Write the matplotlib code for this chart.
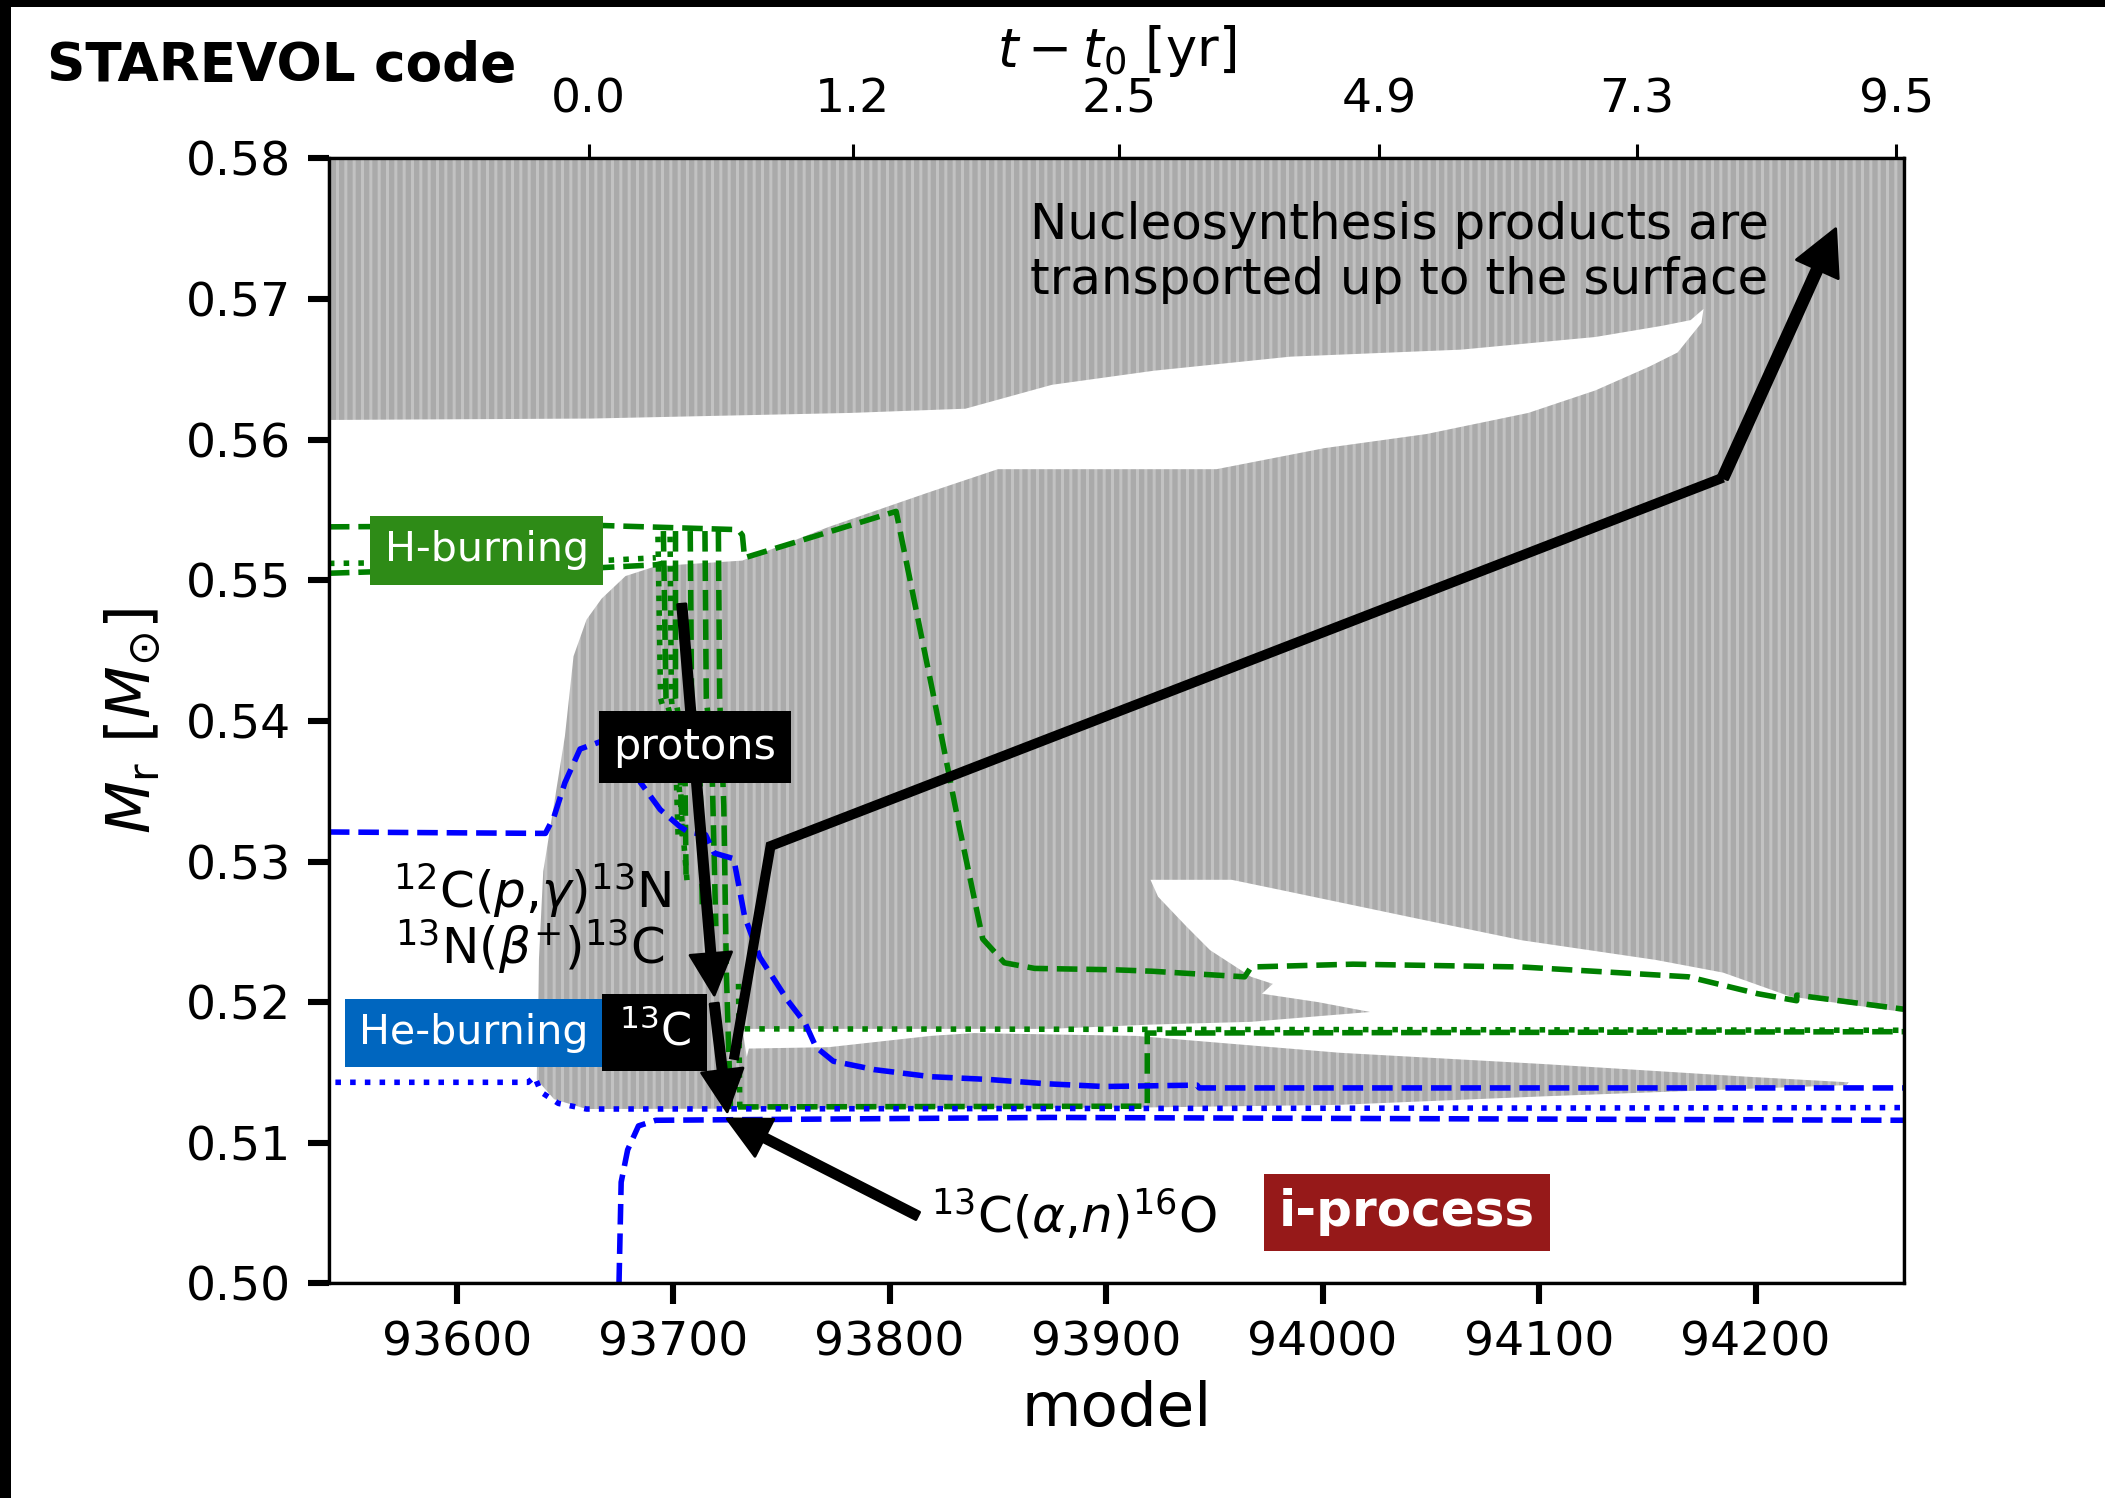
import numpy as np
import matplotlib
matplotlib.use('Agg')
import matplotlib.pyplot as plt
from matplotlib.patches import Rectangle

plt.rcParams['font.family'] = 'DejaVu Sans'
plt.rcParams['mathtext.fontset'] = 'dejavusans'
plt.rcParams['hatch.linewidth'] = 1.1

# --- axis ranges and ticks ---
model_lim = (93541.0, 94268.4)
mass_lim = (0.50, 0.58)
model_ticks = [93600, 93700, 93800, 93900, 94000, 94100, 94200]
mass_ticks = [0.50, 0.51, 0.52, 0.53, 0.54, 0.55, 0.56, 0.57, 0.58]
time_tick_models = [93661, 93783, 93906, 94026, 94145, 94265]
time_tick_labels = ['0.0', '1.2', '2.5', '4.9', '7.3', '9.5']

# --- convective zone boundaries ---
# lower edge of the upper convective zone
top_edge_x = [93541.0, 93662, 93782, 93835, 93875, 93922, 93985, 94064, 94126, 94157, 94170, 94176]
top_edge_y = [0.5614, 0.5615, 0.5619, 0.5622, 0.5639, 0.5649, 0.5659, 0.5664, 0.5673, 0.5681, 0.5685, 0.5693]
# upper/left edge of the flash-driven convective zone
core_edge_x = [94175, 94164, 94151, 94126, 94095, 94048, 94001, 93951, 93850, 93819, 93772, 93732,
               93692, 93678, 93667, 93660, 93654, 93650, 93645, 93640, 93638, 93637, 93645, 93660]
core_edge_y = [0.5683, 0.5662, 0.5652, 0.5635, 0.5619, 0.5604, 0.5594, 0.5579, 0.5579, 0.5563, 0.5538, 0.5514,
               0.5510, 0.5503, 0.5487, 0.5472, 0.5446, 0.5389, 0.5341, 0.5293, 0.5230, 0.5145, 0.5131, 0.5124]
# bottom of the convective zone
floor_edge_x = [93914, 94008, 94102, 94242, 94243]
floor_edge_y = [0.5125, 0.5127, 0.5133, 0.5141, 0.5143]
# top of the lower (split) convective zone
split_top_x = [94196, 94102, 94008, 93914, 93839, 93819, 93772, 93735, 93734, 93732]
split_top_y = [0.5147, 0.5156, 0.5164, 0.5176, 0.5178, 0.5176, 0.5168, 0.5167, 0.5161, 0.5181]
# radiative band between the two zones
band_top_x = [93874, 93920, 93967, 93998, 94022]
band_top_y = [0.5181, 0.5184, 0.5186, 0.5190, 0.5193]
# radiative tongue on the right
tongue_low_x = [93998, 93972, 93977, 93967, 93948, 93937, 93924, 93920.5]
tongue_low_y = [0.5200, 0.5206, 0.5213, 0.5218, 0.5237, 0.5254, 0.5275, 0.5287]
tongue_up_x = [93958, 93983, 94045, 94092, 94154, 94185, 94216, 94268.4]
tongue_up_y = [0.5287, 0.5279, 0.5259, 0.5244, 0.5230, 0.5221, 0.5204, 0.5193]

# --- burning shell boundaries ---
h_top_x = [93541, 93666, 93730, 93732, 93733, 93803, 93820, 93832, 93843, 93853, 93867, 93904,
           93921, 93964, 93967, 94014, 94092, 94169, 94201, 94219, 94219, 94268.4]
h_top_y = [0.5538, 0.5539, 0.5536, 0.5532, 0.5516, 0.5549, 0.5420, 0.5326, 0.5245, 0.5228, 0.5224, 0.5223,
           0.5222, 0.5218, 0.5225, 0.5227, 0.5225, 0.5218, 0.5206, 0.5201, 0.5205, 0.5195]
h_low_x = [93541, 93561, 93667, 93692, 93695]
h_low_y = [0.5505, 0.5506, 0.5509, 0.5511, 0.5512]
h_max_x = [93541, 93667, 93692]
h_max_y = [0.5512, 0.5514, 0.5516]

# proton ingestion episodes (vertical H-burning boundaries)
flash_dash = [
    ([93695.5, 93696.7, 93702.9, 93704.2], [0.5535, 0.5416, 0.5378, 0.5318]),
    ([93701.1, 93701.1, 93705.4, 93706.0], [0.5535, 0.5416, 0.5378, 0.5287]),
    ([93707.9, 93708.5, 93712.2, 93713.5], [0.5535, 0.5416, 0.5378, 0.5267]),
    ([93714.7, 93715.3, 93717.8, 93719.7], [0.5535, 0.5416, 0.5378, 0.5254]),
    ([93720.9, 93721.5, 93723.4, 93724.6, 93726.5], [0.5535, 0.5416, 0.5340, 0.5221, 0.5124]),
]
flash_dot = [
    ([93693.0, 93694.2, 93701.1, 93702.3], [0.5531, 0.5416, 0.5378, 0.5318]),
    ([93698.6, 93699.2, 93703.5, 93706.6], [0.5531, 0.5416, 0.5340, 0.5283]),
    ([93730.2, 93730.8], [0.5213, 0.5124]),
]
h_band_x = [93733, 94268.4]
h_band_y = [0.5181, 0.5180]
h_floor_x = [93730, 93919, 93919, 94268.4]
h_floor_y = [0.51255, 0.5126, 0.5178, 0.5179]

he_top_x = [93541, 93641, 93645, 93650, 93657, 93666, 93675, 93685, 93694, 93703, 93707, 93715, 93719,
            93728, 93733, 93740, 93753, 93761, 93766, 93774, 93793, 93819, 93846, 93872, 93899, 93942,
            93943, 94268.4]
he_top_y = [0.5321, 0.5320, 0.5332, 0.5356, 0.5380, 0.5385, 0.5386, 0.5356, 0.5337, 0.5325, 0.5321, 0.5319,
            0.5306, 0.5302, 0.5261, 0.5232, 0.5201, 0.5185, 0.5168, 0.5158, 0.5152, 0.5147, 0.5145, 0.5142,
            0.5140, 0.5141, 0.5139, 0.5139]
he_max_x = [93544, 93633, 93636, 93639, 93647, 93660, 94268.4]
he_max_y = [0.5143, 0.5143, 0.5147, 0.5136, 0.5128, 0.5124, 0.5125]
he_low_x = [93675, 93676, 93679, 93684, 93692, 93874, 94268.4]
he_low_y = [0.5000, 0.5072, 0.5095, 0.5112, 0.5116, 0.5118, 0.5116]

# --- annotation anchors (model, Mr) ---
protons_arrow = ((93704, 0.5483), (93719, 0.5205))
c13_arrow = ((93719, 0.5199), (93725, 0.5122))
alpha_arrow = ((93813, 0.5048), (93725, 0.5117))
mixing_path_x = [93728, 93745, 94185]
mixing_path_y = [0.5159, 0.5311, 0.5573]
mixing_tip = (94237, 0.5750)

fig = plt.figure(figsize=(10.525, 7.49), dpi=200)
ax = fig.add_axes([0.15625, 0.14326, 0.7481, 0.7510])

# convective zones: grey everywhere, radiative parts painted white
ax.fill_between(model_lim, mass_lim[0], mass_lim[1], facecolor='#aaaaaa',
                edgecolor='#c2c2c2', hatch='||||', linewidth=0, zorder=1)
white_x = ([model_lim[0]] + top_edge_x + core_edge_x + floor_edge_x + split_top_x
           + band_top_x + tongue_low_x + tongue_up_x + [model_lim[1]])
white_y = ([mass_lim[0]] + top_edge_y + core_edge_y + floor_edge_y + split_top_y
           + band_top_y + tongue_low_y + tongue_up_y + [mass_lim[0]])
ax.fill(white_x, white_y, facecolor='white', linewidth=0, zorder=1.5)

lw = 2.0
g = 'green'
b = 'blue'
ax.plot(h_top_x, h_top_y, '--', color=g, lw=lw, zorder=3)
ax.plot(h_low_x, h_low_y, '--', color=g, lw=lw, zorder=3)
ax.plot(h_max_x, h_max_y, ':', color=g, lw=lw, zorder=3)
for xs, ys in flash_dash:
    ax.plot(xs, ys, '--', color=g, lw=lw, zorder=3)
for xs, ys in flash_dot:
    ax.plot(xs, ys, ':', color=g, lw=lw, zorder=3)
ax.plot(h_band_x, h_band_y, ':', color=g, lw=lw, zorder=3)
ax.plot(h_floor_x, h_floor_y, '--', color=g, lw=lw, zorder=3)
ax.plot(he_top_x, he_top_y, '--', color=b, lw=lw, zorder=3)
ax.plot(he_max_x, he_max_y, ':', color=b, lw=lw, zorder=3)
ax.plot(he_low_x, he_low_y, '--', color=b, lw=lw, zorder=3)

# arrows
aprops = dict(facecolor='black', edgecolor='black', width=3.0, headwidth=15,
              headlength=15, shrink=0.0)
for start, end in (protons_arrow, c13_arrow, alpha_arrow):
    ax.annotate('', xy=end, xytext=start, xycoords='data', arrowprops=aprops, zorder=4)
ax.plot(mixing_path_x, mixing_path_y, color='black', lw=3.6, solid_capstyle='butt',
        solid_joinstyle='miter', zorder=4)
ax.annotate('', xy=mixing_tip, xytext=(mixing_path_x[-1], mixing_path_y[-1]),
            arrowprops=dict(aprops, width=3.6, headwidth=16.5, headlength=16), zorder=4)

# labels in boxes
ax.text(93614, 0.55212, 'H-burning', color='white', fontsize=14.8, ha='center', va='center',
        bbox=dict(boxstyle='square,pad=0.35', facecolor='#2e8b17', edgecolor='none'), zorder=6)
ax.text(93710, 0.53814, 'protons', color='white', fontsize=15.5, ha='center', va='center',
        bbox=dict(boxstyle='square,pad=0.34', facecolor='black', edgecolor='none'), zorder=6)
ax.text(93608, 0.51780, 'He-burning', color='white', fontsize=14.8, ha='center', va='center',
        bbox=dict(boxstyle='square,pad=0.35', facecolor='#0066bf', edgecolor='none'), zorder=6)
ax.text(93691.5, 0.51785, r'$^{13}$C', color='white', fontsize=16, ha='center', va='center',
        bbox=dict(boxstyle='square,pad=0.37', facecolor='black', edgecolor='none'), zorder=6)
ax.text(94039, 0.50506, 'i-process', color='white', fontsize=18, fontweight='bold',
        ha='center', va='center',
        bbox=dict(boxstyle='square,pad=0.29', facecolor='#961919', edgecolor='none'), zorder=6)

# reaction labels
ax.text(93699, 0.52797, r'$^{12}$C($p$,$\gamma$)$^{13}$N', fontsize=18, ha='right', va='center', zorder=5)
ax.text(93696, 0.52396, r'$^{13}$N($\beta^{+}$)$^{13}$C', fontsize=18, ha='right', va='center', zorder=5)
ax.text(93819, 0.50487, r'$^{13}$C($\alpha$,$n$)$^{16}$O', fontsize=18, ha='left', va='center', zorder=5)
ax.text(94206, 0.57332, 'Nucleosynthesis products are\ntransported up to the surface',
        fontsize=18, ha='right', va='center', zorder=5)

ax.set_xlim(model_lim)
ax.set_ylim(mass_lim)
ax.set_xticks(model_ticks)
ax.set_yticks(mass_ticks)
ax.set_yticklabels(['%.2f' % v for v in mass_ticks])
ax.tick_params(axis='both', which='major', labelsize=17, length=7.5, width=2.2, direction='out')
ax.tick_params(axis='x', pad=6)
ax.tick_params(axis='y', pad=6)
ax.set_xlabel('model', fontsize=22, labelpad=5)
ax.set_ylabel(r'$M_{\rm r}\ [M_{\odot}]$', fontsize=22, labelpad=8)
for s in ax.spines.values():
    s.set_linewidth(1.2)
    s.set_zorder(7)

ax2 = ax.twiny()
ax2.set_xlim(model_lim)
ax2.set_xticks(time_tick_models)
ax2.set_xticklabels(time_tick_labels)
ax2.tick_params(axis='x', labelsize=17, length=5, width=1.1, pad=8)
ax2.set_xlabel(r'$t - t_0$ [yr]', fontsize=19, labelpad=4)

fig.text(0.0223, 0.956, 'STAREVOL code', fontsize=19.2, fontweight='bold', ha='left', va='center')

# black frame remnants on the top and left edges
fig.patches.append(Rectangle((0, 1 - 7 / 1498), 1, 7 / 1498, transform=fig.transFigure,
                             facecolor='black', edgecolor='none', zorder=10))
fig.patches.append(Rectangle((0, 0), 11 / 2105, 1, transform=fig.transFigure,
                             facecolor='black', edgecolor='none', zorder=10))

fig.savefig('out.png', dpi=200)
